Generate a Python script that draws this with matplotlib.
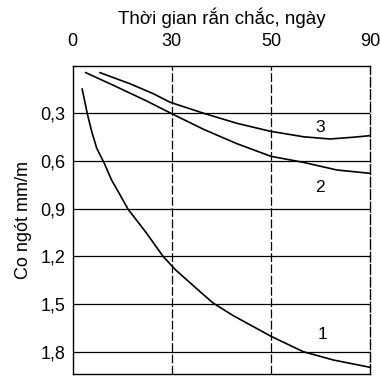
import numpy as np
import matplotlib
matplotlib.use("Agg")
import matplotlib.pyplot as plt

plt.rcParams['font.family'] = ['Liberation Sans', 'DejaVu Sans']

# ---- data (days, shrinkage mm/m) ----
day_ticks = [0, 30, 50, 90]
y_ticks = [0.3, 0.6, 0.9, 1.2, 1.5, 1.8]
y_tick_labels = ["0,3", "0,6", "0,9", "1,2", "1,5", "1,8"]

c1_days = [2.9, 4.5, 5.8, 7.3, 9.6, 11.8, 14.1, 16.8, 22.4, 27.4, 30.8, 35.7, 38.4, 42.4, 50.3, 63.1, 75.2, 90]
c1_vals = [0.147, 0.306, 0.415, 0.519, 0.614, 0.719, 0.803, 0.903, 1.054, 1.20, 1.285, 1.421, 1.494, 1.572, 1.704, 1.799, 1.851, 1.897]

c2_days = [4.0, 12.3, 22.4, 30.0, 36.4, 43.1, 50.0, 63.1, 76.6, 90]
c2_vals = [0.044, 0.123, 0.222, 0.302, 0.400, 0.490, 0.570, 0.608, 0.656, 0.677]

c3_days = [8.3, 17.3, 24.4, 29.5, 36.4, 43.1, 49.8, 63.1, 73.8, 83.2, 90]
c3_vals = [0.044, 0.113, 0.176, 0.230, 0.299, 0.362, 0.412, 0.447, 0.461, 0.450, 0.440]

curve_labels = ["1", "2", "3"]
label_days = [70.6, 69.8, 69.8]
label_vals = [1.689, 0.763, 0.386]

# piecewise scale: ticks evenly spaced
def fwd(d):
    return np.interp(d, day_ticks, np.arange(len(day_ticks)))

def inv(p):
    return np.interp(p, np.arange(len(day_ticks)), day_ticks)

fig = plt.figure(figsize=(3.8, 3.76), dpi=100)
ax = fig.add_axes([0.191, 0.0053, 0.783, 0.8200])
ax.set_xscale('function', functions=(fwd, inv))
ax.set_xlim(0, 90)
ax.set_ylim(1.939, 0)

for yv in y_ticks:
    ax.axhline(yv, color='black', lw=0.9, zorder=1)
for xv in day_ticks[1:-1]:
    ax.axvline(xv, color='black', lw=0.9, ls=(0, (7, 2)), zorder=1)

for d, v in [(c1_days, c1_vals), (c2_days, c2_vals), (c3_days, c3_vals)]:
    ax.plot(d, v, color='black', lw=1.2, zorder=2, solid_joinstyle='round')

for t, d, v in zip(curve_labels, label_days, label_vals):
    ax.text(d, v, t, ha='center', va='center', fontsize=12.5, color='black')

ax.xaxis.tick_top()
ax.xaxis.set_label_position('top')
ax.set_xticks(day_ticks)
ax.set_xticklabels([str(d) for d in day_ticks])
ax.set_yticks(y_ticks)
ax.set_yticklabels(y_tick_labels)
ax.tick_params(axis='x', length=0, pad=11, labelsize=13)
ax.tick_params(axis='y', length=0, pad=5, labelsize=13)
ax.tick_params(axis='x', which='minor', length=0)
ax.set_xlabel("Thời gian rắn chắc, ngày", fontsize=13.5, labelpad=7)
ax.set_ylabel("Co ngót mm/m", fontsize=13, labelpad=6)

for s in ax.spines.values():
    s.set_linewidth(1.0)
ax.spines['right'].set_linestyle((0, (7, 2)))

fig.savefig("out.png", dpi=100)
